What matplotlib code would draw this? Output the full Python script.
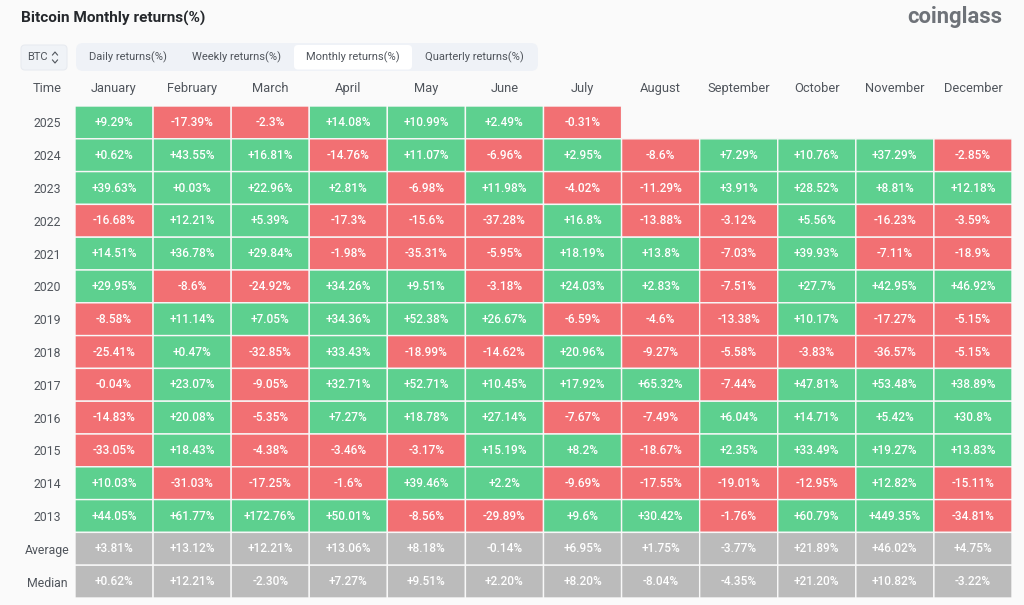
import numpy as np
import matplotlib
matplotlib.use("Agg")
import matplotlib.pyplot as plt
from matplotlib.colors import ListedColormap
from matplotlib.patches import FancyBboxPatch

plt.rcParams['font.family'] = ['Roboto', 'DejaVu Sans']

months = ['January', 'February', 'March', 'April', 'May', 'June', 'July',
          'August', 'September', 'October', 'November', 'December']
years = ['2025', '2024', '2023', '2022', '2021', '2020', '2019', '2018',
         '2017', '2016', '2015', '2014', '2013']
tabs = ['Daily returns(%)', 'Weekly returns(%)', 'Monthly returns(%)', 'Quarterly returns(%)']

r2025 = [9.29, -17.39, -2.3, 14.08, 10.99, 2.49, -0.31, np.nan, np.nan, np.nan, np.nan, np.nan]
r2024 = [0.62, 43.55, 16.81, -14.76, 11.07, -6.96, 2.95, -8.6, 7.29, 10.76, 37.29, -2.85]
r2023 = [39.63, 0.03, 22.96, 2.81, -6.98, 11.98, -4.02, -11.29, 3.91, 28.52, 8.81, 12.18]
r2022 = [-16.68, 12.21, 5.39, -17.3, -15.6, -37.28, 16.8, -13.88, -3.12, 5.56, -16.23, -3.59]
r2021 = [14.51, 36.78, 29.84, -1.98, -35.31, -5.95, 18.19, 13.8, -7.03, 39.93, -7.11, -18.9]
r2020 = [29.95, -8.6, -24.92, 34.26, 9.51, -3.18, 24.03, 2.83, -7.51, 27.7, 42.95, 46.92]
r2019 = [-8.58, 11.14, 7.05, 34.36, 52.38, 26.67, -6.59, -4.6, -13.38, 10.17, -17.27, -5.15]
r2018 = [-25.41, 0.47, -32.85, 33.43, -18.99, -14.62, 20.96, -9.27, -5.58, -3.83, -36.57, -5.15]
r2017 = [-0.04, 23.07, -9.05, 32.71, 52.71, 10.45, 17.92, 65.32, -7.44, 47.81, 53.48, 38.89]
r2016 = [-14.83, 20.08, -5.35, 7.27, 18.78, 27.14, -7.67, -7.49, 6.04, 14.71, 5.42, 30.8]
r2015 = [-33.05, 18.43, -4.38, -3.46, -3.17, 15.19, 8.2, -18.67, 2.35, 33.49, 19.27, 13.83]
r2014 = [10.03, -31.03, -17.25, -1.6, 39.46, 2.2, -9.69, -17.55, -19.01, -12.95, 12.82, -15.11]
r2013 = [44.05, 61.77, 172.76, 50.01, -8.56, -29.89, 9.6, 30.42, -1.76, 60.79, 449.35, -34.81]
average = [3.81, 13.12, 12.21, 13.06, 8.18, -0.14, 6.95, 1.75, -3.77, 21.89, 46.02, 4.75]
median = [0.62, 12.21, -2.30, 7.27, 9.51, 2.20, 8.20, -8.04, -4.35, 21.20, 10.82, -3.22]

returns = np.array([r2025, r2024, r2023, r2022, r2021, r2020, r2019, r2018,
                    r2017, r2016, r2015, r2014, r2013])
summary = np.array([average, median])

BG = '#fafafa'
GREEN = '#5dd08f'
RED = '#f27073'
GREY = '#bbbbbb'
TEXT = '#50555c'
W, H = 1024, 605

fig = plt.figure(figsize=(W / 100, H / 100), dpi=100, facecolor=BG)

# table axes, one unit per cell
ax = fig.add_axes([75 / W, 1 - 598 / H, 937 / W, 492 / H])
ax.set_facecolor(BG)

# 0 = red, 1 = green, 2 = grey
codes = np.vstack([np.where(returns >= 0, 1.0, 0.0), np.full(summary.shape, 2.0)])
codes = np.ma.masked_where(np.isnan(np.vstack([returns, summary])), codes)
cmap = ListedColormap([RED, GREEN, GREY])
ax.pcolor(codes, cmap=cmap, vmin=-0.5, vmax=2.5, edgecolors='#f8f8f8', linewidth=1.0)
ax.set_xlim(0, 12)
ax.set_ylim(15, 0)


def fmt_short(v):
    s = f"{v:+.2f}".rstrip('0').rstrip('.')
    return s + '%'


for i, row in enumerate(returns):
    for j, v in enumerate(row):
        if not np.isnan(v):
            ax.text(j + 0.5, i + 0.5, fmt_short(v), ha='center', va='center',
                    color='white', fontsize=8.6, fontweight='medium')
for i, row in enumerate(summary):
    for j, v in enumerate(row):
        ax.text(j + 0.5, i + len(years) + 0.5, f"{v:+.2f}%", ha='center', va='center',
                color='white', fontsize=8.6, fontweight='medium')

ax.xaxis.tick_top()
ax.set_xticks(np.arange(12) + 0.5, months)
ax.set_yticks(np.arange(15) + 0.5, years + ['Average', 'Median'])
ax.tick_params(length=0, labelcolor=TEXT)
ax.tick_params(axis='x', labelsize=9.3, pad=8)
ax.tick_params(axis='y', labelsize=8.8, pad=0)
for lab in ax.get_yticklabels():
    lab.set_ha('center')
    lab.set_x(-28 / 937)
for s in ax.spines.values():
    s.set_visible(False)

# page furniture above the table, in pixels
ui = fig.add_axes([0, 0, 1, 1], zorder=5)
ui.set_xlim(0, W)
ui.set_ylim(H, 0)
ui.axis('off')

ui.text(21, 18, 'Bitcoin Monthly returns(%)', fontsize=11.1, fontweight='bold',
        color='#25282c', va='center', ha='left')
ui.text(1002, 17, 'coinglass', fontsize=15.8, fontweight='bold', color='#6e7278',
        va='center', ha='right')
ui.text(47, 88, 'Time', fontsize=9.3, color=TEXT, ha='center', va='center')

ui.add_patch(FancyBboxPatch((21, 45), 46, 25, boxstyle='round,pad=0,rounding_size=4',
                            fc='#f0f3f7', ec='#e8ebf0', lw=0.8))
ui.text(37, 57.5, 'BTC', fontsize=8, color=TEXT, ha='center', va='center')
ui.plot([52.5, 55, 57.5], [55, 52, 55], color=TEXT, lw=0.8)
ui.plot([52.5, 55, 57.5], [60, 63, 60], color=TEXT, lw=0.8)

ui.add_patch(FancyBboxPatch((76, 43), 462, 28, boxstyle='round,pad=0,rounding_size=7',
                            fc='#eff2f7', ec='none'))
ui.add_patch(FancyBboxPatch((294, 45), 118, 24.5, boxstyle='round,pad=0,rounding_size=4',
                            fc='#ffffff', ec='none'))
for x, label in zip([128, 237, 353, 474], tabs):
    ui.text(x, 57.5, label, fontsize=8, color=TEXT, ha='center', va='center')

fig.savefig('out.png', dpi=100, facecolor=BG)
